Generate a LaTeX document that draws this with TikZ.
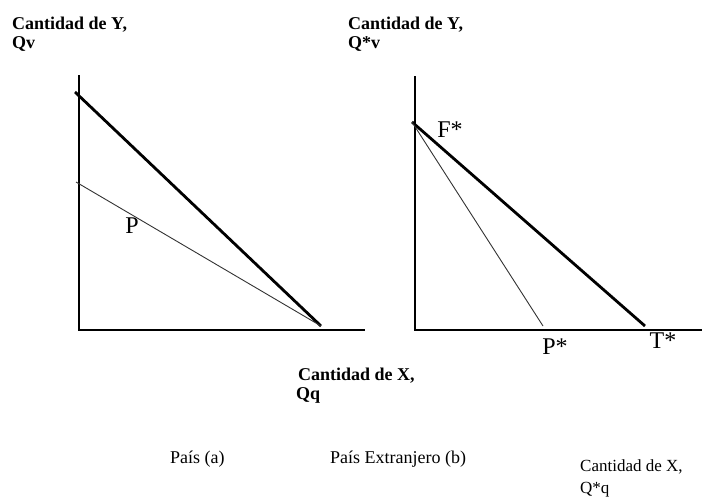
\documentclass[tikz,border=0pt]{standalone}
\usepackage{fontspec}
\setmainfont{Liberation Serif}
\begin{document}
\begin{tikzpicture}[x=1pt,y=-1pt,
  axisline/.style={line width=1.6pt, black},
  budget/.style={line width=2.8pt, black},
  thinline/.style={line width=0.9pt, black!80},
  pixlabel/.style={font=\bfseries\fontsize{18}{21}\selectfont, anchor=base west, inner sep=0pt},
  ptlabel/.style={font=\fontsize{24}{28}\selectfont, inner sep=0pt},
  caption/.style={font=\fontsize{18}{21}\selectfont, anchor=base west, inner sep=0pt},
  smallcaption/.style={font=\fontsize{17}{20}\selectfont, anchor=base west, inner sep=0pt}]
\useasboundingbox (0,0) rectangle (702,496);
% left graph
\coordinate (O1) at (79,330);
\coordinate (Y1) at (79,75);
\coordinate (X1) at (365,330);
\coordinate (A1) at (75,92);
\coordinate (B1) at (76,182);
\coordinate (C1) at (321,326);
\draw[axisline] (Y1) -- (O1) -- (X1);
\draw[budget] (A1) -- (C1);
\draw[thinline] (B1) -- (C1);
\node[ptlabel] (P) at (132,226) {P};
% right graph
\coordinate (O2) at (415,330);
\coordinate (Y2) at (415,76);
\coordinate (X2) at (702,330);
\coordinate (F) at (412,122);
\coordinate (P2) at (543,326);
\coordinate (T) at (645,326);
\draw[axisline] (Y2) -- (O2) -- (X2);
\draw[budget] (F) -- (T);
\draw[thinline] (F) -- (P2);
\node[ptlabel] (Fs) at (450,130) {F*};
\node[ptlabel] (Ps) at (555,347) {P*};
\node[ptlabel] (Ts) at (663,341) {T*};
% axis labels
\node[pixlabel] (ly1) at (12,29) {Cantidad de Y,};
\node[pixlabel] (ly2) at (12,48) {Qv};
\node[pixlabel] (ry1) at (348,29) {Cantidad de Y,};
\node[pixlabel] (ry2) at (348,48) {Q*v};
\node[pixlabel] (lx1) at (298,380) {Cantidad de X,};
\node[pixlabel] (lx2) at (296,399) {Qq};
% captions
\node[caption] (ca) at (170,463) {País (a)};
\node[caption] (cb) at (330,463) {País Extranjero (b)};
\node[smallcaption] (rx1) at (580,471) {Cantidad de X,};
\node[smallcaption] (rx2) at (580,493) {Q*q};
\end{tikzpicture}
\end{document}
